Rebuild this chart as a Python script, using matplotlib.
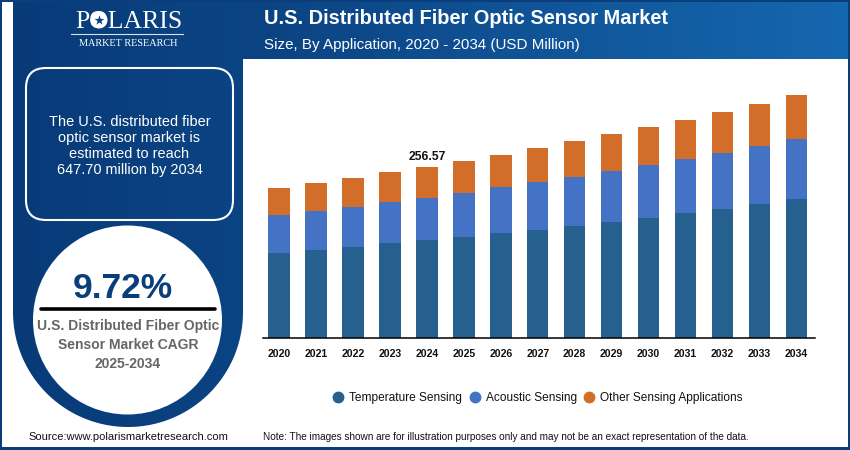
import numpy as np
import matplotlib
matplotlib.use("Agg")
import matplotlib.pyplot as plt
from matplotlib.lines import Line2D
from matplotlib.patches import FancyBboxPatch, Rectangle, Circle, PathPatch
from matplotlib.path import Path

plt.rcParams['font.family'] = ['Liberation Sans', 'DejaVu Sans']

years = list(range(2020, 2035))
temperature = [128, 131.5, 137, 142, 146.4, 152, 157.5, 162.5, 168.5, 174.5, 180.5, 187, 194, 201.5, 209]
acoustic = [56, 59, 60, 62.5, 64.3, 66, 68.5, 71, 73.5, 76, 78.5, 81, 84, 86, 89]
other = [40.5, 41.5, 43, 44, 45.87, 47.5, 49, 51, 53, 55, 57, 59.5, 61, 64, 66.5]
series_names = ['Temperature Sensing', 'Acoustic Sensing', 'Other Sensing Applications']
labelled_year = 2024
labelled_value = '256.57'

C_TEMP, C_ACOU, C_OTHER = '#25608F', '#4472C4', '#D26E2A'
DARK = '#0A3D7C'

fig = plt.figure(figsize=(8.5, 4.5), dpi=100, facecolor='white')

# decoration layer in pixel coordinates
bg = fig.add_axes([0, 0, 1, 1])
bg.set_axis_off()

# outer frame
for r in [(0, 0, 850, 2), (0, 0, 2, 450), (848, 0, 2, 450), (0, 447, 850, 3)]:
    bg.add_patch(Rectangle((r[0], r[1]), r[2], r[3], fc=DARK, ec='none', zorder=5))

# header gradient
grad = np.linspace(0, 1, 256).reshape(1, -1)
cmap_h = matplotlib.colors.LinearSegmentedColormap.from_list('h', ['#0B4281', '#1567AF'])
bg.imshow(grad, extent=(243, 848, 59, 2), cmap=cmap_h, aspect='auto', zorder=1)

# left shield panel
cx, cy, R = 128, 312, 115
theta = np.linspace(0, np.pi, 90)
verts = [(13, 2), (243, 2), (243, cy)] + [(cx + R*np.cos(t), cy + R*np.sin(t)) for t in theta] + [(13, 2)]
codes = [Path.MOVETO] + [Path.LINETO]*(len(verts)-2) + [Path.CLOSEPOLY]
shield = PathPatch(Path(verts, codes), fc='none', ec='none', transform=bg.transData)
bg.add_patch(shield)
cmap_v = matplotlib.colors.LinearSegmentedColormap.from_list('v', ['#083A78', '#0B4483'])
im = bg.imshow(grad, extent=(13, 243, 450, 0), cmap=cmap_v, aspect='auto', zorder=1)
im.set_clip_path(shield)

bg.set_xlim(0, 850)
bg.set_ylim(450, 0)

# logo
bg.text(128.5, 21.5, 'POLARIS', color='white', family='Liberation Serif', fontsize=18.5,
        ha='center', va='center', zorder=3)
bg.add_patch(Circle((99, 20), 8.5, fc='white', ec='none', zorder=4))
bg.scatter([99], [20], marker='*', s=55, c=DARK, linewidths=0, zorder=5)
bg.plot([71, 183], [34, 34], color='white', lw=0.8, alpha=0.85, zorder=3)
bg.text(128, 44, 'MARKET RESEARCH', color='white', family='Liberation Serif', fontsize=7.4,
        ha='center', va='center', zorder=3)

# callout
bg.add_patch(FancyBboxPatch((26, 68), 207, 152, boxstyle='round,pad=0,rounding_size=20',
                            fc='none', ec='white', lw=1.5, zorder=3))
for y, s in zip([122, 138, 154, 170],
                ['The U.S. distributed fiber', 'optic sensor market is',
                 'estimated to reach', '647.70 million by 2034']):
    bg.text(129.5, y, s, color='white', fontsize=10.45, ha='center', va='center', zorder=3)

# CAGR circle
bg.add_patch(Circle((127.5, 320), 94.5, fc='white', ec='none', zorder=2))
bg.text(122.5, 288, '9.72%', color=DARK, fontsize=25.5, fontweight='bold', ha='center', va='center', zorder=3)
bg.plot([41, 215], [309, 309], color='black', lw=2.6, solid_capstyle='round', zorder=3)
for y, s in zip([326, 345, 363.5],
                ['U.S. Distributed Fiber Optic', 'Sensor Market CAGR', '2025-2034']):
    bg.text(128, y, s, color='#666666', fontsize=10, fontweight='bold', ha='center', va='center', zorder=3)

# header, footer
bg.text(264, 18.5, 'U.S. Distributed Fiber Optic Sensor Market', color='white', fontsize=14.45,
        fontweight='bold', ha='left', va='center', zorder=3)
bg.text(264, 45.5, 'Size, By Application, 2020 - 2034 (USD Million)', color='white', fontsize=10.9,
        ha='left', va='center', zorder=3)
bg.text(28, 437.5, 'Source:www.polarismarketresearch.com', color='#111111', fontsize=8.05,
        ha='left', va='center', zorder=3)
bg.text(263, 437.5, 'Note: The images shown are for illustration purposes only and may not be an exact representation of the data.',
        color='#111111', fontsize=7.2, ha='left', va='center', zorder=3)

# chart
L, Rgt, T, B = 263, 815, 60, 338
ax = fig.add_axes([L/850, 1 - B/450, (Rgt-L)/850, (B-T)/450], facecolor='none')
x = np.arange(len(years))
temp_a, acou_a, oth_a = map(np.array, (temperature, acoustic, other))
ax.bar(x, temp_a, width=0.58, color=C_TEMP)
ax.bar(x, acou_a, width=0.58, bottom=temp_a, color=C_ACOU)
ax.bar(x, oth_a, width=0.58, bottom=temp_a+acou_a, color=C_OTHER)
ax.set_xlim(-0.433, 14.5)
ax.set_ylim(0, 417)
ax.set_xticks(x, [str(y) for y in years], fontsize=7.6, fontweight='bold', color='#111111')
ax.tick_params(axis='x', length=0, pad=8)
ax.set_yticks([])
for s in ('top', 'left', 'right'):
    ax.spines[s].set_visible(False)
ax.spines['bottom'].set_linewidth(1.1)
i = years.index(labelled_year)
ax.annotate(labelled_value, (x[i], (temp_a+acou_a+oth_a)[i]), xytext=(0, 7.5), textcoords='offset points',
            ha='center', va='center', fontsize=8.7, fontweight='bold', color='#111111')

handles = [Line2D([], [], marker='o', ls='none', ms=7.5, color=c) for c in (C_TEMP, C_ACOU, C_OTHER)]
fig.legend(handles, series_names, loc='center', bbox_to_anchor=(537.5/850, 1 - 398/450), ncol=3,
           frameon=False, fontsize=8.55, handlelength=1, handletextpad=0.42, columnspacing=0.54,
           labelcolor='#111111')

fig.savefig('out.png', dpi=100)
